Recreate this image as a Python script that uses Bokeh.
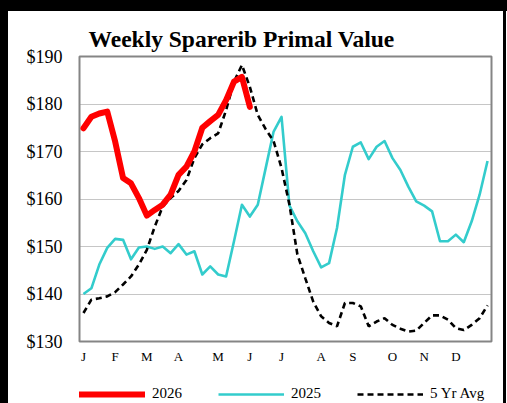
from bokeh.plotting import figure
from bokeh.models import FixedTicker, NumeralTickFormatter, Legend, LegendItem, Range1d, Div
from bokeh.layouts import column, row
from bokeh.embed import file_html
from bokeh.resources import INLINE

weeks = list(range(1, 53))
weeks_2026 = list(range(1, 23))

y2026 = [174.9, 177.3, 178.0, 178.4, 172.1, 164.4, 163.3, 160.2, 156.5, 157.7, 158.8,
         160.9, 165.1, 166.8, 170.0, 175.0, 176.4, 177.7, 180.8, 184.7, 185.7, 179.4]

y2025 = [140.0, 141.2, 146.2, 149.7, 151.6, 151.4, 147.3, 149.8, 150.0, 149.5, 150.0,
         148.6, 150.5, 148.3, 149.0, 144.1, 145.8, 144.1, 143.7, 151.1, 158.8, 156.3,
         158.8, 166.5, 174.2, 177.3, 158.6, 155.3, 152.8, 149.0, 145.6, 146.5, 153.9,
         165.1, 171.0, 171.9, 168.4, 171.0, 172.2, 168.6, 166.1, 162.6, 159.5, 158.6,
         157.4, 151.1, 151.1, 152.5, 150.9, 155.3, 160.9, 168.0]

avg5 = [136.0, 138.8, 139.1, 139.5, 140.4, 142.0, 143.7, 146.2, 149.3, 154.2, 158.4,
        160.2, 161.7, 164.0, 168.6, 171.5, 172.8, 173.8, 178.7, 184.7, 188.2, 183.6,
        177.7, 174.7, 172.2, 166.5, 158.8, 148.3, 143.3, 138.4, 135.3, 133.9, 133.2,
        138.1, 138.1, 137.4, 133.2, 134.2, 134.9, 133.5, 132.7, 132.1, 132.3, 133.9,
        135.5, 135.5, 134.6, 132.8, 132.4, 133.5, 134.9, 137.6]

month_ticks = [1, 5, 9, 13, 18, 22, 26, 31, 35, 40, 44, 48]
month_labels = ["J", "F", "M", "A", "M", "J", "J", "A", "S", "O", "N", "D"]
y_ticks = [130, 140, 150, 160, 170, 180, 190]
series_names = ["2026", "2025", "5 Yr Avg"]

SERIF = "Liberation Serif"
RED, CYAN, BLACK = "#FF0000", "#33CCCC", "black"

p = figure(width=495, height=372, output_backend="svg", toolbar_location=None,
           x_range=Range1d(0.5, 52.5), y_range=Range1d(130, 190),
           frame_width=412, frame_height=285,
           min_border_left=71, min_border_right=12, min_border_top=45, min_border_bottom=42,
           title="Weekly Sparerib Primal Value", margin=0)

p.title.text_font = SERIF
p.title.text_font_size = "23.5px"
p.title.text_font_style = "bold"
p.title.text_color = "black"
p.title.align = "left"
p.title.offset = 9
p.title.standoff = 10

p.background_fill_color = "white"
p.border_fill_color = "white"
p.outline_line_color = "#858585"
p.outline_line_width = 2

p.xaxis.ticker = FixedTicker(ticks=month_ticks)
p.xaxis.major_label_overrides = {t: l for t, l in zip(month_ticks, month_labels)}
p.yaxis.ticker = FixedTicker(ticks=y_ticks)
p.yaxis.formatter = NumeralTickFormatter(format="$0")
for ax in (p.xaxis, p.yaxis):
    ax.axis_line_color = None
    ax.major_tick_line_color = None
    ax.minor_tick_line_color = None
    ax.major_label_text_font = SERIF
    ax.major_label_text_color = "black"
p.yaxis.major_label_text_font_size = "18px"
p.yaxis.major_label_standoff = 11
p.xaxis.major_label_text_font_size = "13px"
p.xaxis.major_label_standoff = 1

p.xgrid.grid_line_color = None
p.ygrid.grid_line_color = "#8c8c8c"
p.ygrid.grid_line_dash = "1 1"
p.ygrid.grid_line_width = 1

p.line(weeks, y2025, line_color=CYAN, line_width=2.6, line_join="round")
p.line(weeks, avg5, line_color=BLACK, line_width=2.6, line_dash="6 4")
p.line(weeks_2026, y2026, line_color=RED, line_width=6, line_join="round", line_cap="round")

# legend strip below the chart (proxy renderers lie outside its view)
lf = figure(width=495, height=20, output_backend="svg", toolbar_location=None,
            x_range=Range1d(-10, -9), y_range=Range1d(0, 1),
            x_axis_location=None, y_axis_location=None,
            min_border=0, margin=0)
lf.grid.grid_line_color = None
lf.outline_line_color = None
lf.background_fill_color = "white"
lf.border_fill_color = "white"
g26 = lf.line(weeks_2026, y2026, line_color=RED, line_width=6, line_cap="round")
g25 = lf.line(weeks, y2025, line_color=CYAN, line_width=2.6)
g5 = lf.line(weeks, avg5, line_color=BLACK, line_width=2.6, line_dash="6 4")

legend = Legend(items=[LegendItem(label=series_names[0], renderers=[g26]),
                       LegendItem(label=series_names[1], renderers=[g25]),
                       LegendItem(label=series_names[2], renderers=[g5])],
                orientation="horizontal", location=(0, 1),
                glyph_width=66, glyph_height=16, label_standoff=7, label_width=66,
                spacing=0, padding=0, margin=0,
                border_line_color=None, background_fill_alpha=0,
                label_text_font=SERIF, label_text_font_size="15px", label_text_color="black")
lf.add_layout(legend, "center")

top_bar = Div(width=507, height=11, margin=0, styles={"background-color": "black"})
left_bar = Div(width=8, height=392, margin=0, styles={"background-color": "black"})
right_bar = Div(width=3, height=392, margin=0, styles={"background-color": "black"})
layout = column(top_bar, row(left_bar, column(p, lf, spacing=0), right_bar, spacing=0), spacing=0)

open("out.html", "w").write(file_html(layout, INLINE))
